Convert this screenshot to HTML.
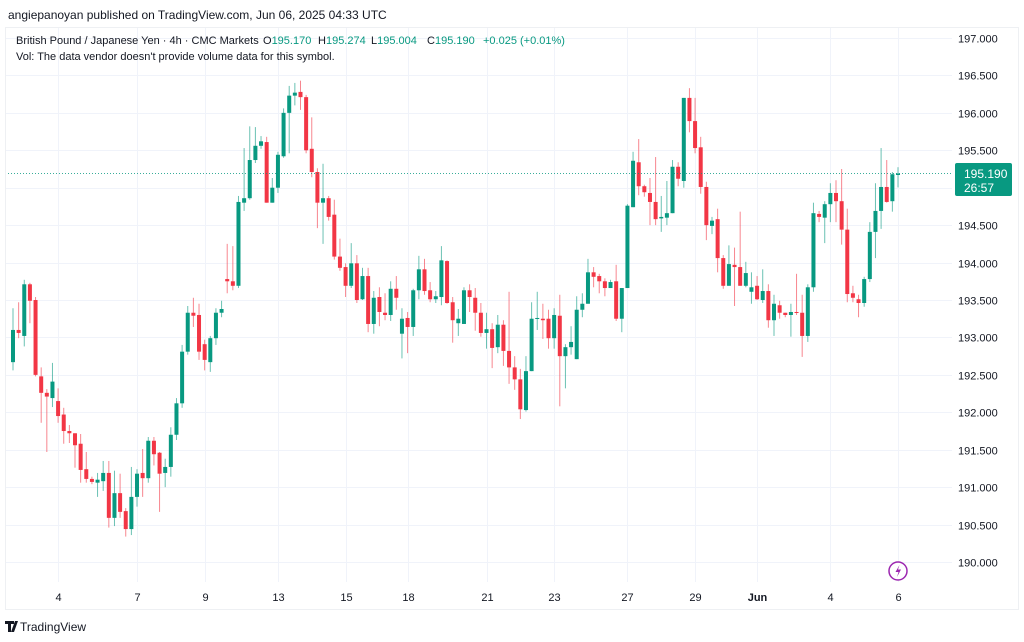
<!DOCTYPE html>
<html><head><meta charset="utf-8"><style>
html,body{margin:0;padding:0;background:#fff;width:1024px;height:642px;overflow:hidden;font-family:"Liberation Sans",sans-serif;}
svg text{font-family:"Liberation Sans",sans-serif;}
</style></head><body>
<svg id="chart" width="1024" height="642" viewBox="0 0 1024 642" xmlns="http://www.w3.org/2000/svg">
<text x="8" y="19" font-size="12" fill="#131722">angiepanoyan published on TradingView.com, Jun 06, 2025 04:33 UTC</text>
<rect x="5.5" y="27.5" width="1013" height="582" fill="none" stroke="#eef0f3"/>
<g id="grid"></g>
<g id="candles"></g>
<g id="yaxis"></g>
<g id="xaxis"></g>
<line x1="8" x2="952" y1="173.5" y2="173.5" stroke="#089981" stroke-width="1" stroke-dasharray="1,2" opacity="0.8"/>
<g>
<rect x="955" y="163" width="57" height="33" rx="2" fill="#089981"/>
<text x="964" y="178" font-size="12" fill="#fff">195.190</text>
<text x="964" y="192" font-size="12" fill="#fff">26:57</text>
</g>
<g font-size="11">
<text x="16" y="44" fill="#131722">British Pound / Japanese Yen · 4h · CMC Markets</text>
<text x="263" y="44" fill="#131722">O<tspan fill="#089981">195.170</tspan></text>
<text x="318" y="44" fill="#131722">H<tspan fill="#089981">195.274</tspan></text>
<text x="371" y="44" fill="#131722">L<tspan fill="#089981">195.004</tspan></text>
<text x="427" y="44" fill="#131722">C<tspan fill="#089981">195.190</tspan></text>
<text x="483" y="44" fill="#089981">+0.025 (+0.01%)</text>
<text x="16" y="60" fill="#131722">Vol: The data vendor doesn't provide volume data for this symbol.</text>
</g>
<g>
<circle cx="898" cy="571" r="9" fill="#fff" stroke="#9c27b0" stroke-width="1.5"/>
<path d="M899.5 565 L895.5 572 L898.5 572 L897 577 L901 569.5 L898 569.5 Z" fill="#9c27b0"/>
</g>
<g>
<path d="M5 621 h9 v3 h-3 v8 h-3 v-8 h-3z M15 621 h3 l-4 11 h-3z" fill="#131722"/>
<text x="20" y="631" font-size="12" fill="#131722">TradingView</text>
</g>
</svg>
<script>
const opens=[192.67,193.10,193.02,193.71,193.50,192.48,192.26,192.19,192.15,191.97,191.75,191.72,191.58,191.24,191.11,191.06,191.08,191.19,190.59,190.92,190.68,190.44,190.87,191.19,191.12,191.62,191.46,191.19,191.27,191.70,192.12,192.81,193.33,193.30,192.91,192.67,192.99,193.33,193.78,193.75,193.69,194.80,194.86,195.37,195.56,195.61,194.80,195.00,195.42,196.00,196.23,196.28,196.21,195.52,195.21,194.80,194.86,194.64,194.08,193.94,193.69,193.99,193.51,193.82,193.18,193.54,193.33,193.30,193.65,193.05,193.26,193.14,193.63,193.91,193.63,193.51,193.54,194.02,193.47,193.19,193.18,193.63,193.53,193.33,193.06,193.11,192.87,193.17,192.82,192.60,192.44,192.03,192.55,193.25,193.25,193.25,192.99,193.29,192.75,192.87,192.71,193.37,193.45,193.87,193.82,193.75,193.66,193.75,193.25,193.66,194.74,195.34,195.02,194.93,194.81,194.59,194.60,194.66,195.28,195.09,196.20,195.89,195.54,195.01,194.49,194.58,194.06,193.69,193.97,193.94,193.69,193.61,193.69,193.50,193.62,193.23,193.43,193.33,193.30,193.34,193.33,193.02,193.67,194.65,194.60,194.78,194.93,194.82,194.44,193.59,193.51,193.46,193.78,194.41,194.69,195.01,194.82,195.17];
const highs=[193.39,193.47,193.77,193.73,193.54,192.60,192.31,192.66,192.32,192.06,191.83,191.72,191.71,191.47,191.14,191.19,191.35,191.35,191.22,191.18,190.72,191.27,191.24,191.51,191.67,191.67,191.47,191.38,191.80,192.19,192.90,193.42,193.53,193.45,192.97,193.02,193.39,193.49,194.25,194.22,194.89,195.53,195.82,195.81,195.69,195.68,195.13,195.48,196.06,196.36,196.40,196.43,196.24,195.94,195.26,195.32,194.89,194.84,194.32,193.99,194.26,194.10,193.93,193.93,193.62,193.67,193.59,193.75,193.82,193.39,193.34,193.65,194.09,194.05,193.74,193.62,194.22,194.03,193.54,193.38,193.67,193.71,193.66,193.46,193.33,193.19,193.30,193.23,193.61,192.75,192.58,192.75,193.47,193.61,193.45,193.37,193.39,193.57,192.91,193.15,193.55,193.59,194.05,193.94,193.85,193.79,193.77,193.97,193.66,194.78,195.48,195.65,195.04,195.13,195.41,194.89,195.09,195.37,195.34,196.20,196.33,196.20,195.68,195.08,194.61,194.72,194.10,194.23,194.20,194.68,194.01,193.87,193.82,193.91,193.71,193.57,193.49,193.33,193.45,193.85,193.57,193.71,194.80,194.69,194.82,195.06,195.10,195.25,194.72,193.69,193.57,193.81,194.54,195.06,195.53,195.37,195.21,195.274];
const lows=[192.56,192.99,192.88,193.19,192.48,191.86,191.47,192.07,191.86,191.58,191.59,191.26,191.06,191.06,191.04,190.87,190.95,190.46,190.48,190.59,190.34,190.36,190.74,190.87,191.06,191.29,190.67,191.00,191.14,191.63,192.06,192.77,193.14,192.70,192.56,192.54,192.90,193.27,193.59,193.63,193.66,194.69,194.84,195.33,195.52,194.80,194.80,194.93,195.40,195.46,196.10,196.04,195.46,195.14,194.46,194.25,194.56,194.04,193.89,193.54,193.66,193.46,193.50,193.07,193.05,193.15,193.23,193.22,193.37,192.72,192.79,193.02,193.51,193.57,193.47,193.46,193.43,193.45,192.93,193.02,193.18,193.34,193.09,193.01,192.85,192.59,192.79,192.62,192.38,192.30,191.91,192.01,192.55,193.10,192.98,192.85,192.85,192.08,192.32,192.77,192.71,193.27,193.45,193.67,193.59,193.55,193.66,193.22,193.07,193.66,194.74,194.90,194.88,194.50,194.50,194.41,194.50,194.66,195.02,195.00,195.74,195.46,194.92,194.30,194.38,193.87,193.65,193.69,193.42,193.69,193.67,193.45,193.50,193.46,193.13,193.02,193.25,193.27,193.01,193.30,192.74,192.94,193.61,194.54,194.26,194.54,194.54,194.24,193.47,193.47,193.27,193.41,193.74,194.06,194.45,194.80,194.68,195.004];
const closes=[193.10,193.06,193.71,193.49,192.50,192.26,192.21,192.41,191.95,191.75,191.72,191.56,191.23,191.11,191.07,191.10,191.19,190.59,190.92,190.67,190.44,190.87,191.18,191.12,191.62,191.44,191.18,191.27,191.70,192.12,192.81,193.33,193.29,192.81,192.70,192.99,193.33,193.38,193.75,193.69,194.81,194.86,195.37,195.56,195.62,194.80,195.00,195.44,196.00,196.23,196.27,196.21,195.50,195.21,194.80,194.86,194.61,194.08,193.93,193.69,193.99,193.50,193.82,193.18,193.53,193.34,193.30,193.65,193.53,193.25,193.14,193.63,193.91,193.62,193.51,193.55,194.03,193.46,193.23,193.25,193.63,193.54,193.33,193.06,193.11,192.86,193.17,192.82,192.60,192.44,192.04,192.55,193.25,193.26,193.23,192.99,193.30,192.75,192.87,192.94,193.37,193.45,193.87,193.81,193.75,193.66,193.74,193.25,193.66,194.76,195.36,195.02,194.94,194.81,194.58,194.61,194.66,195.28,195.12,196.20,195.89,195.53,195.01,194.50,194.56,194.06,193.69,193.98,193.94,193.69,193.86,193.67,193.51,193.62,193.23,193.45,193.33,193.30,193.34,193.33,193.02,193.67,194.66,194.61,194.78,194.93,194.82,194.44,193.58,193.53,193.46,193.78,194.41,194.69,195.01,194.81,195.18,195.19];
const priceTicks=["197.000","196.500","196.000","195.500","195.000","194.500","194.000","193.500","193.000","192.500","192.000","191.500","191.000","190.500","190.000"];
const dateLabels=["4","7","9","13","15","18","21","23","27","29","Jun","4","6"];
const dateIdx=[8,22,34,47,59,70,84,96,109,121,132,145,157];

const NS="http://www.w3.org/2000/svg";
const yS=p=>38+(197-p)*74.86;
const xS=i=>13+i*5.637;
function mk(tag,attrs,parent){const e=document.createElementNS(NS,tag);for(const k in attrs)e.setAttribute(k,attrs[k]);parent.appendChild(e);return e;}
const grid=document.getElementById('grid'),cg=document.getElementById('candles'),ya=document.getElementById('yaxis'),xa=document.getElementById('xaxis');
priceTicks.forEach(t=>{
  const y=Math.round(yS(parseFloat(t)))+0.5;
  const l=mk('line',{x1:6,x2:952,y1:y,y2:y,stroke:'#f0f3fa'},grid);
  
  
  const tx=mk('text',{x:958,y:y+4,'font-size':11,fill:'#131722'},ya);
  tx.textContent=t;
  
  
});
dateLabels.forEach((d,k)=>{
  const x=Math.round(xS(dateIdx[k]))+0.5;
  const l=mk('line',{x1:x,x2:x,y1:28,y2:582,stroke:'#f0f3fa'},grid);
  
  
  const tx=mk('text',{x:x,y:601,'font-size':11,fill:'#131722','text-anchor':'middle','font-weight':d==='Jun'?'bold':'normal'},xa);
  tx.textContent=d;
  
  
});
for(let i=0;i<opens.length;i++){
  const up=closes[i]>=opens[i];
  const col=up?'#089981':'#F23645';
  const x=xS(i);
  const g=mk('g',{},cg);
  
  
  mk('line',{x1:x,x2:x,y1:yS(highs[i]),y2:yS(lows[i]),stroke:col,'stroke-width':1,opacity:0.6},g);
  const top=yS(Math.max(opens[i],closes[i])),bot=yS(Math.min(opens[i],closes[i]));
  mk('rect',{x:x-2,y:top,width:4,height:Math.max(1,bot-top),fill:col},g);
}
</script>
</body></html>
